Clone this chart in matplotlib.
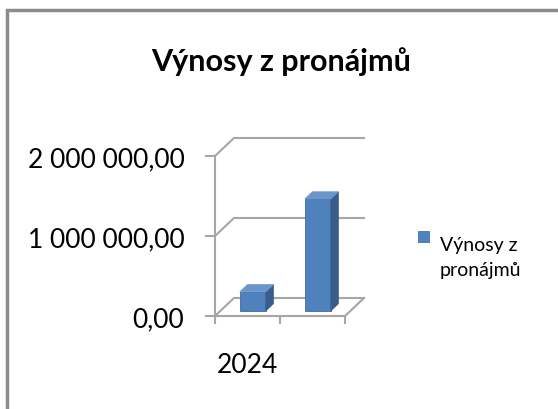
import matplotlib
matplotlib.use("Agg")
import matplotlib.pyplot as plt
from matplotlib.patches import Polygon, Rectangle
from matplotlib.ticker import FuncFormatter

plt.rcParams['font.family'] = ['Lato', 'DejaVu Sans']

title = "Výnosy z pronájmů"
series_name = "Výnosy z pronájmů"
categories = ["2024", ""]
values = [240000, 1400000]
y_ticks = [0, 1000000, 2000000]

front = "#4F81BD"
side = "#385D8A"
top = "#6A96CB"
grid = "#A6A6A6"

W, H = 558, 410
fig = plt.figure(figsize=(W / 100, H / 100), dpi=100)

# axes placed so that one category = 65 px and 1 000 000 = 80 px
ax = fig.add_axes([200 / W, 70 / H, 190 / W, 215 / H])
ax.set_xlim(-15 / 65, 175 / 65)
ax.set_ylim(-23 / 80 * 1e6, 192 / 80 * 1e6)
ax.patch.set_alpha(0)

# oblique depth of the floor / walls
dx = 19 / 65
dy = 18 / 80 * 1e6
n = len(categories)

for sp in ["top", "right"]:
    ax.spines[sp].set_visible(False)
ax.spines["left"].set_position(("data", 0))
ax.spines["bottom"].set_position(("data", 0))
ax.spines["left"].set_bounds(0, y_ticks[-1])
ax.spines["bottom"].set_bounds(0, n)
for sp in ["left", "bottom"]:
    ax.spines[sp].set_color(grid)
    ax.spines[sp].set_linewidth(1.5)

# walls: side gridlines and back gridlines
for v in y_ticks:
    ax.plot([0, dx, n + dx], [v, v + dy, v + dy], color=grid, lw=1.5, clip_on=False)
ax.plot([n, n + dx], [0, dy], color=grid, lw=1.5, clip_on=False)

ax.set_yticks(y_ticks)
ax.yaxis.set_major_formatter(FuncFormatter(
    lambda v, p: f"{v:,.2f}".replace(",", " ").replace(".", ",")))
ax.tick_params(axis="y", direction="out", length=7, width=1.5, color=grid,
               labelsize=19, pad=15)

ax.set_xticks(range(n + 1))
ax.set_xticklabels([])
ax.set_xticks([i + 0.5 for i in range(n)], minor=True)
ax.set_xticklabels(categories, minor=True)
ax.tick_params(axis="x", which="major", direction="out", length=6, width=1.5, color=grid)
ax.tick_params(axis="x", which="minor", length=0, labelsize=19, pad=26)

# 3d-looking bars
bw = 0.4
s0 = 0.28  # depth position of the bar front
bd = 0.4   # bar depth
for i, v in enumerate(values):
    x0 = i + 0.5 - bw / 2 + s0 * dx
    y0 = s0 * dy
    ex, ey = bd * dx, bd * dy
    ax.bar(x0, v, width=bw, bottom=y0, align="edge", color=front,
           edgecolor="#3E6CA6", linewidth=0.6, zorder=3)
    ax.add_patch(Polygon([(x0 + bw, y0), (x0 + bw + ex, y0 + ey),
                          (x0 + bw + ex, y0 + v + ey), (x0 + bw, y0 + v)],
                         closed=True, fc=side, ec=side, lw=0.5, zorder=3))
    ax.add_patch(Polygon([(x0, y0 + v), (x0 + ex, y0 + v + ey),
                          (x0 + bw + ex, y0 + v + ey), (x0 + bw, y0 + v)],
                         closed=True, fc=top, ec=top, lw=0.5, zorder=3))

fig.text(281 / W, 1 - 62 / H, title, ha="center", va="center",
         fontsize=22, fontweight="bold")

# legend
fig.add_artist(Rectangle((418 / W, 1 - 244 / H), 12 / W, 12 / H,
                         transform=fig.transFigure, fc=front, ec="none"))
words = series_name.split()
fig.text(440 / W, 1 - 258 / H, " ".join(words[:2]) + "\n" + " ".join(words[2:]),
         ha="left", va="center", fontsize=14, linespacing=1.6)

# outer frame
fig.add_artist(Rectangle((7 / W, -0.1), 2, 1.1 - 11 / H, transform=fig.transFigure,
                         fc="none", ec="#8C8C8C", lw=2.5, clip_on=False))

fig.savefig("out.png", dpi=100)
